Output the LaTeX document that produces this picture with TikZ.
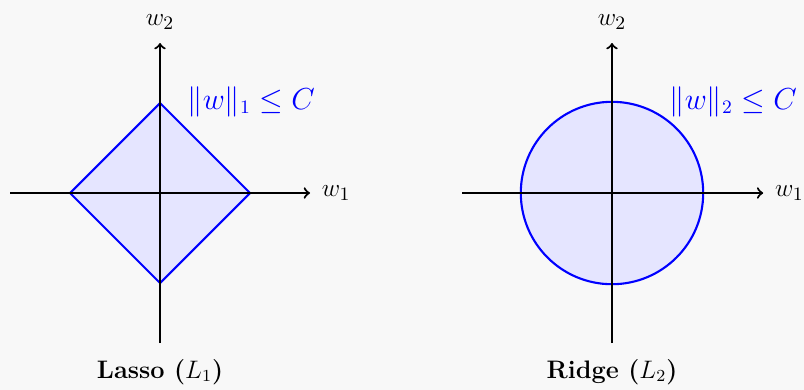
\documentclass[tikz,border=0pt]{standalone}
\usepackage{amsmath,amssymb}
\usepackage{xcolor}
\usepackage{tikz}
\usetikzlibrary{positioning,calc}
\definecolor{bgcol}{RGB}{248,248,248}
\tikzset{
	axis/.style={->, line width=1pt},
	region/.style={draw=blue, fill=blue!10, line width=1pt},
	axlabel/.style={font=\fontsize{13}{15}\selectfont, inner sep=2pt},
	normlabel/.style={text=blue, font=\fontsize{13.5}{15}\selectfont},
	caption/.style={font=\large\bfseries}
}

\begin{document}
\begin{tikzpicture}[
			node distance=2mm and 2mm
			]
			% canvas
			\fill[bgcol] (-2.667,3.217) rectangle (10.733,-3.283);
			\useasboundingbox (-2.667,3.217) rectangle (10.733,-3.283);
			
			% Lasso
			\coordinate (o1) at (0,0);
			\filldraw[region] (1.5,0) -- (0,1.5) -- (-1.5,0) -- (0,-1.5) -- cycle;
			\draw[axis] (-2.5,0) -- (2.5,0) coordinate (x1);
			\draw[axis] (0,-2.5) coordinate (b1) -- (0,2.5) coordinate (y1);
			\node[axlabel, right=1.2mm of x1] (w1a) {$w_1$};
			\node[axlabel, above=1.5mm of y1] (w2a) {$w_2$};
			\node[normlabel] (n1) at (1.52,1.52) {$\|w\|_1 \le C$};
			\node[caption] (c1) at (0,-2.98) {Lasso ($L_1$)};
			
			% Ridge
			\coordinate (o2) at (7.533,0);
			\filldraw[region] (o2) circle (1.52);
			\draw[axis] ($(o2)+(-2.5,0)$) -- ($(o2)+(2.52,0)$) coordinate (x2);
			\draw[axis] ($(o2)+(0,-2.5)$) coordinate (b2) -- ($(o2)+(0,2.5)$) coordinate (y2);
			\node[axlabel, right=1.2mm of x2] (w1b) {$w_1$};
			\node[axlabel, above=1.5mm of y2] (w2b) {$w_2$};
			\node[normlabel] (n2) at ($(o2)+(2.02,1.52)$) {$\|w\|_2 \le C$};
			\node[caption] (c2) at ($(o2)+(0,-2.98)$) {Ridge ($L_2$)};
		\end{tikzpicture}
\end{document}
